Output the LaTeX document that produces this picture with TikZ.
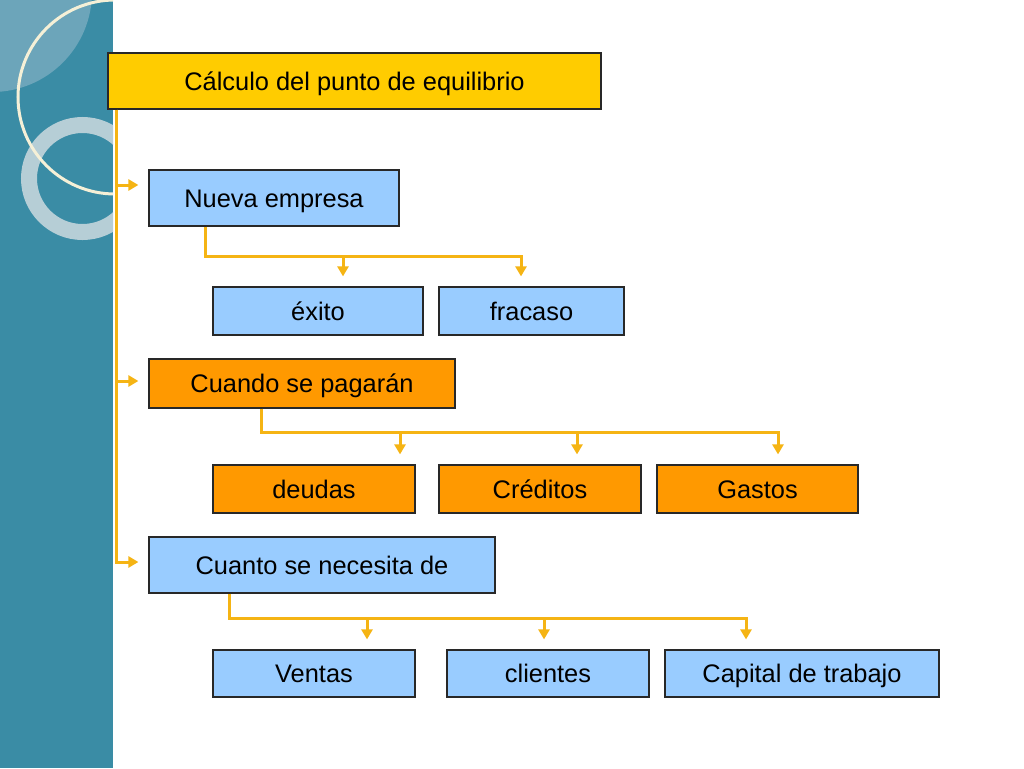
\documentclass[tikz,border=0pt]{standalone}
\usepackage{fontspec}
\setmainfont{Liberation Sans}
\usetikzlibrary{arrows.meta,calc}
\definecolor{bandcol}{RGB}{58,140,165}
\definecolor{lightcol}{RGB}{108,165,186}
\definecolor{ringcol}{RGB}{182,206,214}
\definecolor{creamcol}{RGB}{245,240,215}
\definecolor{goldcol}{RGB}{255,204,0}
\definecolor{bluecol}{RGB}{153,204,255}
\definecolor{orangecol}{RGB}{255,153,0}
\definecolor{boxline}{RGB}{40,40,40}
\definecolor{conncol}{RGB}{245,180,20}
\begin{document}
\begin{tikzpicture}[x=1pt,y=-1pt,
  box/.style={draw=boxline, line width=1.2pt, inner sep=0pt,
    text height=18.2pt, text depth=0pt,
    font=\fontsize{25.4}{30}\selectfont},
  bluebox/.style={box, fill=bluecol},
  orangebox/.style={box, fill=orangecol},
  line/.style={draw=conncol, line width=3pt},
  conn/.style={line, -{Triangle[length=10pt,width=11pt]}, shorten >=10pt}]
\fill[white] (0,0) rectangle (1024,768);
\useasboundingbox (0,0) rectangle (1024,768);
% left band
\fill[bandcol] (0,0) rectangle (113,768);
\begin{scope}
  \clip (0,0) rectangle (113,768);
  \fill[lightcol] (-8,-8) circle (100);
  \draw[ringcol, line width=16pt] (82.5,178.5) circle (53.5);
  \draw[creamcol, line width=3pt] (115,97) circle (97);
\end{scope}
% nodes
\node[box, fill=goldcol, minimum width=493pt, minimum height=56pt] (title) at (354.5,81) {Cálculo del punto de equilibrio};
\node[bluebox, minimum width=250pt, minimum height=56pt] (nueva) at (274,198) {Nueva empresa};
\node[bluebox, minimum width=210pt, minimum height=48pt] (exito) at (318,311) {éxito};
\node[bluebox, minimum width=185pt, minimum height=48pt] (fracaso) at (531.5,311) {fracaso};
\node[orangebox, minimum width=306pt, minimum height=49pt] (cuando) at (302,383.5) {Cuando se pagarán};
\node[orangebox, minimum width=202pt, minimum height=48pt] (deudas) at (314,489) {deudas};
\node[orangebox, minimum width=202pt, minimum height=48pt] (creditos) at (540,489) {Créditos};
\node[orangebox, minimum width=201pt, minimum height=48pt] (gastos) at (757.5,489) {Gastos};
\node[bluebox, minimum width=346pt, minimum height=56pt] (cuanto) at (322,565) {Cuanto se necesita de};
\node[bluebox, minimum width=202pt, minimum height=47pt] (ventas) at (314,673.5) {Ventas};
\node[bluebox, minimum width=202pt, minimum height=47pt] (clientes) at (548,673.5) {clientes};
\node[bluebox, minimum width=274pt, minimum height=47pt] (capital) at (802,673.5) {Capital de trabajo};
% trunk
\coordinate (trunk) at ([xshift=9pt]title.south west);
\draw[conn] (trunk) |- ([yshift=13pt]nueva.west);
\draw[conn] (trunk) |- ([yshift=2.5pt]cuando.west);
\draw[conn] (trunk) |- ([yshift=3pt]cuanto.west);
% Nueva empresa branch
\coordinate (nd) at ([xshift=57pt]nueva.south west);
\path (nd) ++(0,30) coordinate (nb);
\coordinate (ea) at ([xshift=25pt]exito.north);
\coordinate (fa) at ([xshift=-10.5pt]fracaso.north);
\draw[conn] (nd) -- (nb) -| (fa);
\draw[conn] (nb -| ea) -- (ea);
% Cuando branch
\coordinate (cd) at ([xshift=113pt]cuando.south west);
\path (cd) ++(0,24) coordinate (cb);
\coordinate (da) at ([xshift=86pt]deudas.north);
\coordinate (ca) at ([xshift=37pt]creditos.north);
\coordinate (ga) at ([xshift=20.5pt]gastos.north);
\draw[conn] (cd) -- (cb) -| (ga);
\draw[conn] (cb -| da) -- (da);
\draw[conn] (cb -| ca) -- (ca);
% Cuanto branch
\coordinate (qd) at ([xshift=81pt]cuanto.south west);
\path (qd) ++(0,25) coordinate (qb);
\coordinate (va) at ([xshift=53pt]ventas.north);
\coordinate (la) at ([xshift=-4pt]clientes.north);
\coordinate (pa) at ([xshift=-56pt]capital.north);
\draw[conn] (qd) -- (qb) -| (pa);
\draw[conn] (qb -| va) -- (va);
\draw[conn] (qb -| la) -- (la);
\end{tikzpicture}
\end{document}
